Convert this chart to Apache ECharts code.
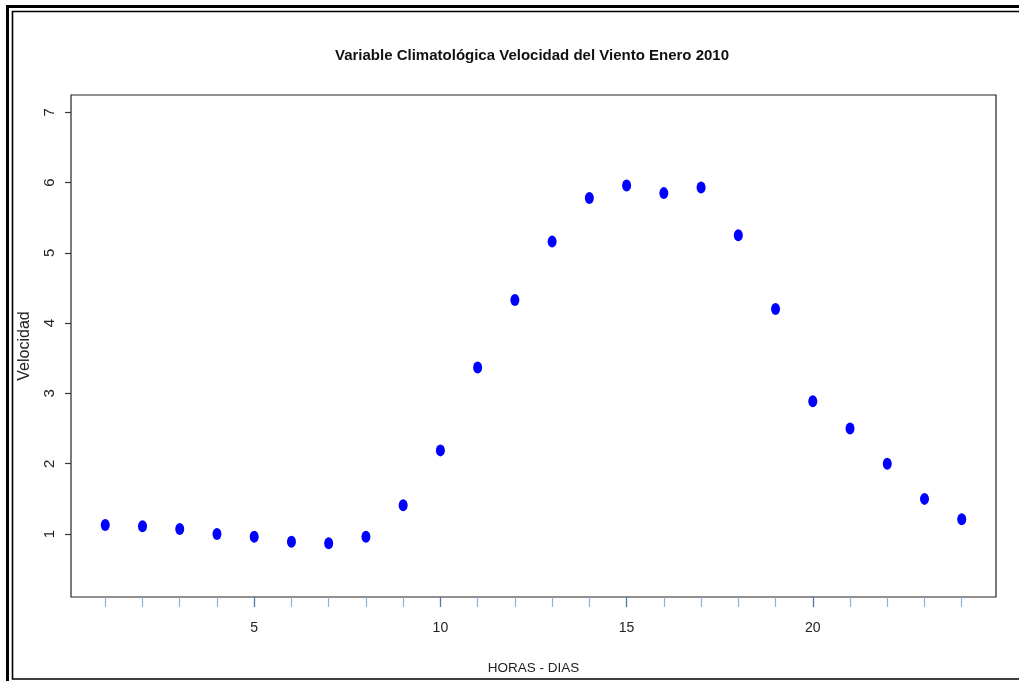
<!DOCTYPE html>
<html>
<head>
<meta charset="utf-8">
<script src="https://cdn.jsdelivr.net/npm/echarts@6/dist/echarts.min.js"></script>
<style>
  html, body { margin: 0; padding: 0; background: #fff; }
  #chart { width: 1019px; height: 681px; }
</style>
</head>
<body>
<div id="chart"></div>
<script>
// ---- data ----
const hours = [1,2,3,4,5,6,7,8,9,10,11,12,13,14,15,16,17,18,19,20,21,22,23,24];
const velocidad = [1.13,1.11,1.07,1.00,0.96,0.89,0.87,0.96,1.41,2.19,3.37,4.33,5.16,5.78,5.96,5.85,5.93,5.25,4.20,2.89,2.50,2.00,1.50,1.21];
const yTicks = [1,2,3,4,5,6,7];
const xMinorTicks = [1,2,3,4,5,6,7,8,9,10,11,12,13,14,15,16,17,18,19,20,21,22,23,24];
const xLabelTicks = [5,10,15,20];
const titleText = 'Variable Climatológica Velocidad del Viento Enero 2010';
const xName = 'HORAS - DIAS';
const yName = 'Velocidad';

const FONT = '"Liberation Sans", Arial, sans-serif';
const chart = echarts.init(document.getElementById('chart'), null, {renderer: 'canvas'});

const points = hours.map((h, i) => [h, velocidad[i]]);

chart.setOption({
  animation: false,
  backgroundColor: '#fff',
  title: {
    text: titleText,
    left: 335,
    top: 48,
    padding: 0,
    textStyle: { fontFamily: FONT, fontWeight: 'bold', fontSize: 15, color: '#111' }
  },
  grid: {
    left: 71, top: 95, right: 23, bottom: 84,
    show: true, borderColor: '#222', borderWidth: 1.2, backgroundColor: 'transparent'
  },
  xAxis: [{
    type: 'value',
    min: 0.08, max: 24.92,
    position: 'bottom',
    axisLine: { show: false },
    splitLine: { show: false },
    axisTick: { show: true, customValues: xMinorTicks, length: 10, lineStyle: { color: '#86b6e0', width: 1.2 } },
    axisLabel: { show: true, customValues: xLabelTicks, margin: 24, fontFamily: FONT, fontSize: 14, color: '#222' },
    name: xName,
    nameLocation: 'middle',
    nameGap: 64,
    nameTextStyle: { fontFamily: FONT, fontSize: 13.5, color: '#222' }
  }, {
    type: 'value',
    min: 0.08, max: 24.92,
    position: 'top',
    offset: -502,
    axisLine: { show: false },
    splitLine: { show: false },
    axisTick: { show: true, inside: true, customValues: xLabelTicks, length: 10, lineStyle: { color: '#4f7aa6', width: 1.2 } },
    axisLabel: { show: false }
  }],
  yAxis: {
    type: 'value',
    min: 0.104, max: 7.246,
    axisLine: { show: false },
    splitLine: { show: false },
    axisTick: { show: true, customValues: yTicks, length: 6, lineStyle: { color: '#333', width: 1.2 } },
    axisLabel: { show: true, customValues: yTicks, rotate: 90, margin: 14, fontFamily: FONT, fontSize: 15, color: '#222' },
    name: yName,
    nameLocation: 'middle',
    nameGap: 38,
    nameRotate: 90,
    nameTextStyle: { fontFamily: FONT, fontSize: 16, color: '#222' }
  },
  series: [{
    type: 'scatter',
    xAxisIndex: 0,
    data: points,
    symbol: 'circle',
    symbolSize: [9, 12],
    itemStyle: { color: '#0000ff', opacity: 1 }
  }],
  graphic: [
    { type: 'rect', silent: true, z: 100, shape: { x: 7.5, y: 6.5, width: 1100, height: 720 }, style: { fill: null, stroke: '#000', lineWidth: 3 } },
    { type: 'rect', silent: true, z: 100, shape: { x: 12.5, y: 11.5, width: 1100, height: 667.5 }, style: { fill: null, stroke: '#000', lineWidth: 1.6 } }
  ]
});
</script>
</body>
</html>
